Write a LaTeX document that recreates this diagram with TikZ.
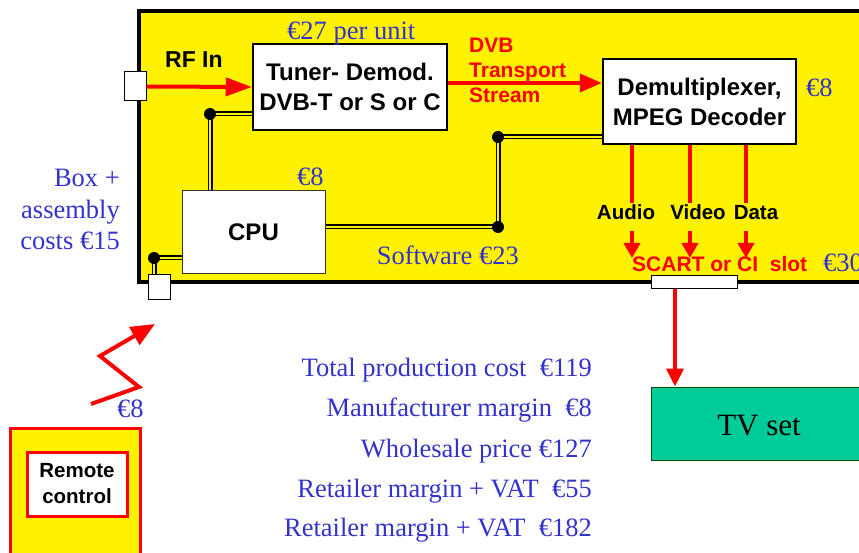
\documentclass[tikz,border=0pt]{standalone}
\usepackage{fontspec}
\setmainfont{Liberation Serif}
\setsansfont{Liberation Sans}
\usetikzlibrary{arrows.meta,calc}
\definecolor{myblue}{RGB}{51,51,204}
\definecolor{tvteal}{RGB}{0,204,153}
\begin{document}
\begin{tikzpicture}[x=1pt,y=-1pt,
  box/.style={draw, fill=white, line width=2.5pt, inner sep=0pt, align=center,
    font=\sffamily\bfseries\fontsize{24}{30}\selectfont},
  port/.style={draw, fill=white, line width=1pt, inner sep=0pt},
  bluetxt/.style={text=myblue, inner sep=0pt, font=\fontsize{26.5}{31}\selectfont},
  redtxt/.style={text=red, inner sep=0pt, align=left, font=\sffamily\bfseries\fontsize{21}{25}\selectfont},
  blacklbl/.style={text=black, inner sep=0pt, font=\sffamily\bfseries\fontsize{20.5}{25}\selectfont},
  redline/.style={draw=red, line width=4pt},
  bigarrow/.style={redline, -{Triangle[length=22pt,width=18pt]}},
  smallarrow/.style={redline, -{Triangle[length=15pt,width=16pt]}},
  dbl/.style={draw=black, line width=1.2pt, double=yellow, double distance=2.6pt},
  dot/.style={fill=black}
]
\useasboundingbox (0,0) rectangle (859,553);
\clip (0,0) rectangle (859,553);
\fill[white] (0,0) rectangle (859,553);

% main set-top box
\draw[line width=4pt, fill=yellow] (139,11) rectangle (900,282);

% remote control
\draw[draw=red, line width=3pt, fill=yellow] (10,428) rectangle (140,580);
\node[draw=red, line width=3pt, fill=white, minimum width=100pt, minimum height=64pt, inner sep=0pt,
  align=center, font=\sffamily\bfseries\fontsize{20.5}{26}\selectfont] (remote) at (77,484) {Remote\\control};

% blocks
\node[box, minimum width=194pt, minimum height=86pt] (tuner) at (350,87) {Tuner- Demod.\\DVB-T or S or C};
\node[box, minimum width=193pt, minimum height=85pt] (demux) at (699.5,101.5) {Demultiplexer,\\MPEG Decoder};
\node[box, line width=1pt, draw=black!80, minimum width=143pt, minimum height=83pt] (cpu) at (253.5,232.5) {CPU};
\node[port, minimum width=22pt, minimum height=29pt] (rf) at (135,86.5) {};
\node[port, minimum width=22pt, minimum height=24pt] (irport) at (159,287) {};
\node[port, minimum width=86pt, minimum height=13pt] (slot) at (694,282.5) {};
\node[draw=black!70!green, line width=1pt, fill=tvteal, minimum width=249pt, minimum height=73pt, inner sep=0pt] (tv) at (775.5,423.5) {};
\node[anchor=base, inner sep=0pt, font=\fontsize{31}{36}\selectfont] (tvlabel) at (759,435) {TV set};

% red signal arrows
\draw[bigarrow, -{Triangle[length=26pt,width=18pt]}] (rf.east) -- (tuner.west);
\draw[bigarrow] ([yshift=4pt]tuner.east) -- ([yshift=4pt]tuner.east -| demux.west);

\coordinate (au) at (632,203); \coordinate (aut) at (632,231); \coordinate (auh) at (632,258);
\coordinate (vi) at (690,203); \coordinate (vit) at (690,231); \coordinate (vih) at (690,258);
\coordinate (da) at (746,203); \coordinate (dat) at (746,231); \coordinate (dah) at (746,258);
\draw[redline] (au |- demux.south) -- (au);
\draw[redline] (vi |- demux.south) -- (vi);
\draw[redline] (da |- demux.south) -- (da);
\draw[smallarrow] (aut) -- (auh);
\draw[smallarrow] (vit) -- (vih);
\draw[smallarrow] (dat) -- (dah);

\coordinate (tvx) at (675,0);
\draw[redline, -{Triangle[length=18pt,width=17pt]}] (slot.south -| tvx) -- (tv.north -| tvx);

% infrared zigzag
\coordinate (z0) at (91,404); \coordinate (z1) at (139,387);
\coordinate (z2) at (100,356); \coordinate (z3) at (155,324);
\draw[redline, line join=miter, -{Triangle[length=24pt,width=20pt]}] (z0) -- (z1) -- (z2) -- (z3);

% control buses (double lines)
\coordinate (d1) at (210,114);
\coordinate (d2) at (498,137);
\coordinate (d3) at (498,227);
\coordinate (d4) at (154,258);
\draw[dbl] (d1) -- (d1 -| tuner.west);
\draw[dbl] (d1) -- (d1 |- cpu.north);
\draw[dbl] (cpu.east |- d3) -- (d3) -- (d2) -- (d2 -| demux.west);
\draw[dbl] (d4) -- (d4 -| cpu.west);
\draw[dbl] (d4) -- (d4 |- irport.north);
\foreach \d in {d1,d2,d3,d4} \fill[dot] (\d) circle (6pt);

% black labels
\node[blacklbl, anchor=base west, font=\sffamily\bfseries\fontsize{23}{28}\selectfont] (rflbl) at (165,68) {RF In};
\node[blacklbl, anchor=base] (audio) at (626,220) {Audio};
\node[blacklbl, anchor=base] (video) at (698,220) {Video};
\node[blacklbl, anchor=base] (data) at (756,220) {Data};

% red labels
\node[redtxt, anchor=base west] (dvb1) at (469,53) {DVB};
\node[redtxt, anchor=base west] (dvb2) at (469,78) {Transport};
\node[redtxt, anchor=base west] (dvb3) at (469,103) {Stream};
\node[redtxt, anchor=base west] (scart) at (632,272) {SCART or CI\ \ slot};

% blue cost labels
\node[bluetxt, anchor=base west] (c27) at (287,40) {€27 per unit};
\node[bluetxt, anchor=base west] (c8d) at (806,97) {€8};
\node[bluetxt, anchor=base west] (c8c) at (297,186) {€8};
\node[bluetxt, anchor=base east] (csw) at (519,265) {Software €23};
\node[bluetxt, anchor=base west] (c30) at (823,272) {€30};
\node[bluetxt, anchor=base west] (c8r) at (117,417) {€8};
\node[bluetxt, anchor=base east] (box1) at (120,187) {Box +};
\node[bluetxt, anchor=base east] (box2) at (120,219) {assembly};
\node[bluetxt, anchor=base east] (box3) at (120,250) {costs €15};

\node[bluetxt, anchor=base east] (t1) at (592,376) {Total production cost\ \ €119};
\node[bluetxt, anchor=base east] (t2) at (592,416) {Manufacturer margin\ \ €8};
\node[bluetxt, anchor=base east] (t3) at (592,457) {Wholesale price €127};
\node[bluetxt, anchor=base east] (t4) at (592,497) {Retailer margin + VAT\ \ €55};
\node[bluetxt, anchor=base east] (t5) at (592,536) {Retailer margin + VAT\ \ €182};
\end{tikzpicture}
\end{document}
